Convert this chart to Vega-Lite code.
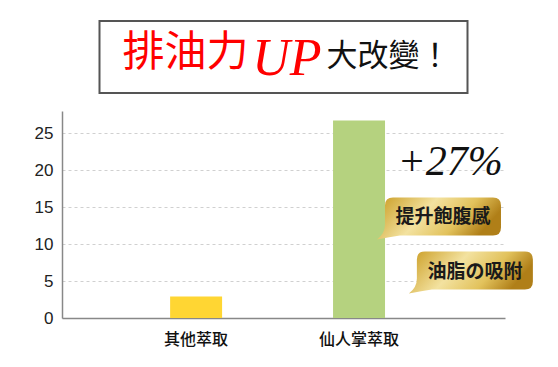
{
  "$schema": "https://vega.github.io/schema/vega-lite/v6.json",
  "background": "white",
  "padding": {"left": 34, "top": 20, "right": 0, "bottom": 4},
  "center": true,
  "bounds": "flush",
  "spacing": 18,
  "config": {"view": {"stroke": null}, "font": "Liberation Sans"},
  "vconcat": [
    {
      "width": 368,
      "height": 72,
      "view": {"stroke": "#555", "strokeWidth": 2, "fill": "white"},
      "data": {"values": [{"title": "排油力UP大改變！"}]},
      "layer": [
        {
          "mark": {"type": "text", "text": "排油力", "font": "Noto Sans CJK TC", "fontSize": 42, "color": "#ff0000", "align": "right", "baseline": "middle"},
          "encoding": {
            "x": {"datum": 0.405, "type": "quantitative", "scale": {"domain": [0, 1], "nice": false, "zero": false}, "axis": null},
            "y": {"datum": 0.55, "type": "quantitative", "scale": {"domain": [0, 1], "nice": false, "zero": false}, "axis": null}
          }
        },
        {
          "mark": {"type": "text", "text": "UP", "font": "Liberation Serif", "fontSize": 52, "fontStyle": "italic", "color": "#ff0000", "align": "left", "baseline": "alphabetic"},
          "encoding": {
            "x": {"datum": 0.415, "type": "quantitative", "scale": {"domain": [0, 1], "nice": false, "zero": false}, "axis": null},
            "y": {"datum": 0.25, "type": "quantitative", "scale": {"domain": [0, 1], "nice": false, "zero": false}, "axis": null}
          }
        },
        {
          "mark": {"type": "text", "text": "大改變！", "font": "Noto Sans CJK TC", "fontSize": 31, "color": "#111", "align": "left", "baseline": "middle"},
          "encoding": {
            "x": {"datum": 0.617, "type": "quantitative", "scale": {"domain": [0, 1], "nice": false, "zero": false}, "axis": null},
            "y": {"datum": 0.5, "type": "quantitative", "scale": {"domain": [0, 1], "nice": false, "zero": false}, "axis": null}
          }
        }
      ]
    },
    {
      "width": 443,
      "height": 207,
      "resolve": {"scale": {"x": "independent"}},
      "layer": [
        {
          "data": {"values": [
            {"extract": "其他萃取", "value": 2.9},
            {"extract": "仙人掌萃取", "value": 26.7}
          ]},
          "mark": {"type": "bar"},
          "encoding": {
            "x": {"field": "extract", "type": "nominal", "sort": null,
                  "scale": {"paddingInner": 0.681, "paddingOuter": 0.7, "align": 0.474},
                  "axis": {"title": null, "labelAngle": 0, "labelFont": "Noto Sans CJK TC", "labelFontSize": 16, "labelFontWeight": 500, "labelColor": "#111", "labelPadding": 13, "ticks": false, "domainColor": "#888", "domainWidth": 1.5, "grid": false}},
            "y": {"field": "value", "type": "quantitative", "title": null,
                  "scale": {"domain": [0, 28], "nice": false},
                  "axis": {"title": null, "values": [0, 5, 10, 15, 20, 25], "labelFontSize": 17, "labelColor": "#222", "labelPadding": 9, "ticks": false, "tickSize": 0, "domainColor": "#888", "domainWidth": 1.5, "grid": true, "gridColor": "#d0d0d0", "gridDash": [3, 3], "gridWidth": 1}},
            "color": {"field": "extract", "type": "nominal",
                      "scale": {"domain": ["其他萃取", "仙人掌萃取"], "range": ["#FFD633", "#B5D27F"]},
                      "legend": null}
          }
        },
        {
          "data": {"values": [
            {"note": "提升飽腹感", "xpos": 0.86, "ypos": 13.73},
            {"note": "油脂の吸附", "xpos": 0.932, "ypos": 6.42}
          ]},
          "layer": [
            {
              "mark": {"type": "point", "filled": true, "opacity": 1, "size": 400, "strokeWidth": 0,
                       "shape": "M-5,-1.9 H5 Q5.8,-1.9 5.8,-1.1 V1.1 Q5.8,1.9 5,1.9 H-4.3 Q-5.3,2.05 -6.6,2.3 Q-5.8,1.7 -5.8,0.8 V-1.1 Q-5.8,-1.9 -5,-1.9 Z",
                       "fill": {"gradient": "linear", "x1": 0, "y1": 0, "x2": 1, "y2": 0.3,
                                "stops": [{"offset": 0, "color": "#c99a1e"}, {"offset": 0.45, "color": "#f3e2a0"}, {"offset": 0.75, "color": "#e2c25c"}, {"offset": 1, "color": "#b07f18"}]}},
              "encoding": {
                "x": {"field": "xpos", "type": "quantitative", "scale": {"domain": [0, 1], "nice": false, "zero": false}, "axis": null},
                "y": {"field": "ypos", "type": "quantitative", "title": null, "scale": {"domain": [0, 28], "nice": false}}
              }
            },
            {
              "mark": {"type": "text", "font": "Noto Sans CJK TC", "fontSize": 19, "fontWeight": "bold", "color": "#1a1a1a", "align": "center", "baseline": "middle", "dy": 1},
              "encoding": {
                "x": {"field": "xpos", "type": "quantitative", "scale": {"domain": [0, 1], "nice": false, "zero": false}, "axis": null},
                "y": {"field": "ypos", "type": "quantitative", "title": null, "scale": {"domain": [0, 28], "nice": false}},
                "text": {"field": "note"}
              }
            }
          ]
        },
        {
          "data": {"values": [{"label": "+27%", "xpos": 0.876, "ypos": 19.35}]},
          "mark": {"type": "text", "font": "Liberation Serif", "fontSize": 42, "fontStyle": "italic", "color": "#111", "align": "center", "baseline": "alphabetic"},
          "encoding": {
            "x": {"field": "xpos", "type": "quantitative", "scale": {"domain": [0, 1], "nice": false, "zero": false}, "axis": null},
            "y": {"field": "ypos", "type": "quantitative", "title": null, "scale": {"domain": [0, 28], "nice": false}},
            "text": {"field": "label"}
          }
        }
      ]
    }
  ]
}
